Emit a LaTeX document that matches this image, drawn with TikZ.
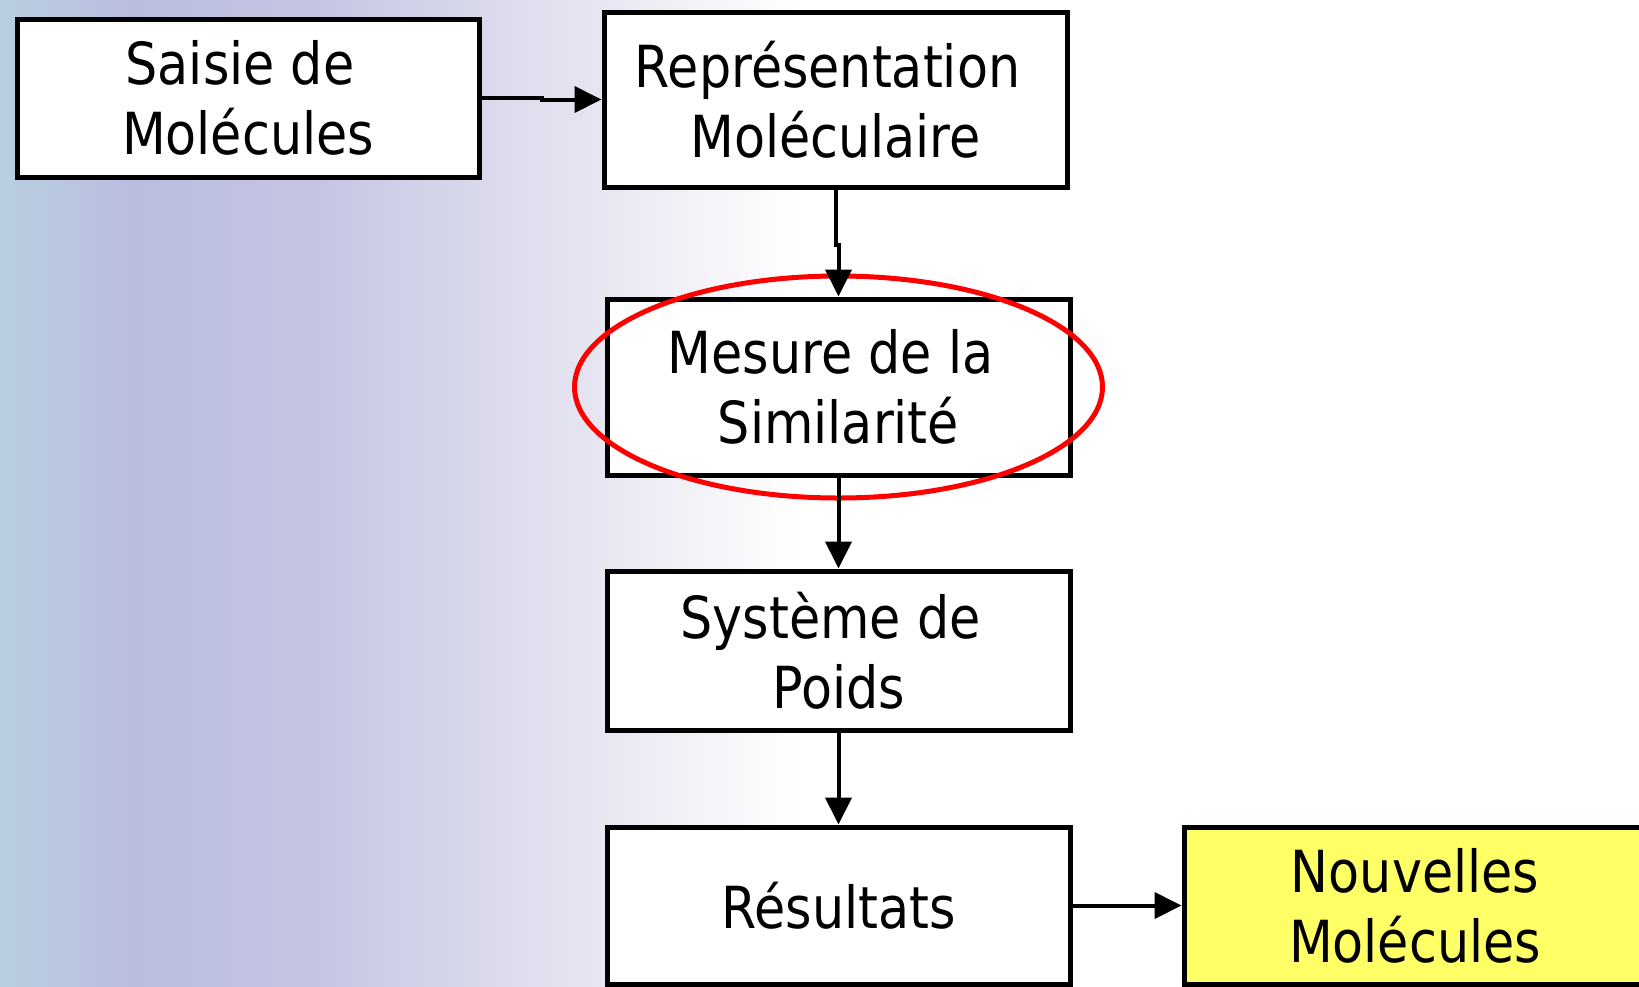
\documentclass[tikz,border=0pt]{standalone}
\usepackage{fontspec}
\setmainfont{DejaVu Sans}[FakeStretch=0.875]
\usetikzlibrary{arrows.meta,shapes.geometric}

\definecolor{bgA}{HTML}{B9CFDF}
\definecolor{bgB}{HTML}{BABDDF}
\definecolor{bgC}{HTML}{C5C5E3}
\definecolor{bgD}{HTML}{D8D8EB}
\definecolor{bgE}{HTML}{E8E8F3}
\definecolor{noteyellow}{HTML}{FFFF66}

\tikzset{
  stepbox/.style={draw=black, line width=5pt, fill=white, inner sep=0pt,
    align=center, font=\fontsize{58}{70}\selectfont},
  flow/.style={line width=4pt, -{Triangle[length=27pt,width=26pt]}},
  focus/.style={ellipse, draw=red, line width=5pt, inner sep=0pt}
}
% trailing space kept at the end of a first line
\newcommand{\trail}{\kern16pt}

\begin{document}
\begin{tikzpicture}[x=1pt,y=-1pt]
  \useasboundingbox (0,0) rectangle (1639,986);

  % background: soft blue-lavender band fading into white
  \fill[white] (0,0) rectangle (1639,986);
  \shade[left color=bgA, right color=bgB] (0,0) rectangle (130.5,986);
  \shade[left color=bgB, right color=bgC] (130,0) rectangle (316.5,986);
  \shade[left color=bgC, right color=bgD] (316,0) rectangle (474.5,986);
  \shade[left color=bgD, right color=bgE] (474,0) rectangle (613.5,986);
  \shade[left color=bgE, right color=white] (613,0) rectangle (800,986);

  % process steps
  \node[stepbox, minimum width=462pt, minimum height=158pt] (saisie) at (248,98)
    {Saisie de\trail\\Molécules};
  \node[stepbox, minimum width=463pt, minimum height=175pt] (repr) at (835.5,99.5)
    {Représentation\trail\\Moléculaire};
  \node[stepbox, minimum width=463pt, minimum height=176pt] (mesure) at (838.5,387)
    {Mesure de la\trail\\Similarité};
  \node[stepbox, minimum width=463pt, minimum height=159pt] (poids) at (838.5,650.5)
    {Système de\trail\\Poids};
  \node[stepbox, minimum width=463pt, minimum height=157pt] (result) at (838.5,905.5)
    {Résultats};
  \node[stepbox, fill=noteyellow, minimum width=462pt, minimum height=157pt] (nouv) at (1415,905.5)
    {Nouvelles\\Molécules};

  % highlight around the similarity step
  \node[focus, minimum width=528pt, minimum height=222pt] (highlight) at (mesure.center) {};

  % connectors
  \draw[flow] (saisie.east) -- ++(60,0) |- (repr.west);
  \draw[flow] (repr.south) -- ++(0,55) -| (mesure.north);
  \draw[flow] (mesure.south) -- (poids.north);
  \draw[flow] (poids.south) -- (result.north);
  \draw[flow] (result.east) -- (nouv.west);
\end{tikzpicture}
\end{document}
